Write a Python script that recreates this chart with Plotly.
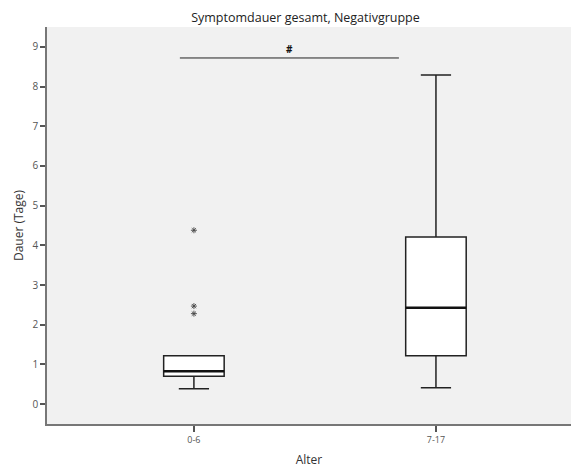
import plotly.graph_objects as go

# Age groups and box statistics for symptom duration (days)
groups = ["0-6", "7-17"]
q1 = [0.70, 1.22]
median = [0.83, 2.43]
q3 = [1.22, 4.21]
lower_whisker = [0.39, 0.41]
upper_whisker = [1.22, 8.29]

# Extreme values shown as asterisks
outlier_group = ["0-6", "0-6", "0-6"]
outlier_values = [4.38, 2.47, 2.28]

# Significance bracket between the groups
sig_x = [-0.058, 0.847]
sig_y = 8.72
sig_label = "<b>#</b>"

fig = go.Figure()

fig.add_trace(go.Box(
    x=groups,
    q1=q1, median=median, q3=q3,
    lowerfence=lower_whisker, upperfence=upper_whisker,
    fillcolor="white",
    line=dict(color="#222222", width=1.5),
    width=0.25,
    whiskerwidth=0.5,
    boxpoints=False,
    showlegend=False,
))

# thicker median lines
for i, m in enumerate(median):
    fig.add_shape(type="line", xref="x", yref="y",
                  x0=i - 0.125, x1=i + 0.125, y0=m, y1=m,
                  line=dict(color="#111111", width=2.5))

fig.add_trace(go.Scatter(
    x=outlier_group, y=outlier_values, mode="markers",
    marker=dict(symbol="asterisk", size=5, color="#444444",
                line=dict(color="#444444", width=0.9)),
    showlegend=False,
))

fig.add_shape(type="line", xref="x", yref="y",
              x0=sig_x[0], x1=sig_x[1], y0=sig_y, y1=sig_y,
              line=dict(color="#222222", width=1))
fig.add_annotation(x=(sig_x[0] + sig_x[1]) / 2, y=sig_y, text=sig_label,
                   showarrow=False, yshift=9,
                   font=dict(size=10, color="#111111"))

fig.update_layout(
    width=571, height=468,
    margin=dict(l=47, r=0, t=27, b=42),
    paper_bgcolor="white",
    plot_bgcolor="#f1f1f1",
    font=dict(family="Open Sans, sans-serif", color="#333333"),
    title=dict(text="Symptomdauer gesamt, Negativgruppe", x=0.535, xanchor="center",
               y=0.962, yanchor="middle", font=dict(size=12.5, color="#222222")),
    xaxis=dict(
        type="category", range=[-0.607, 1.558],
        showgrid=False, zeroline=False,
        showline=True, linecolor="#777777", linewidth=1.5,
        ticks="outside", ticklen=6, tickcolor="#555555", tickwidth=1.5,
        tickfont=dict(size=9, color="#555555"),
        title=dict(text="Alter", font=dict(size=12, color="#333333"), standoff=14),
    ),
    yaxis=dict(
        range=[-0.5, 9.5],
        tickvals=list(range(0, 10)),
        showgrid=False, zeroline=False,
        showline=True, linecolor="#777777", linewidth=1.5,
        ticks="outside", ticklen=5, tickcolor="#555555", tickwidth=1.5,
        tickfont=dict(size=10, color="#555555"),
        title=dict(text="Dauer (Tage)", font=dict(size=12, color="#333333"), standoff=6),
    ),
)

fig.write_html("out.html")
